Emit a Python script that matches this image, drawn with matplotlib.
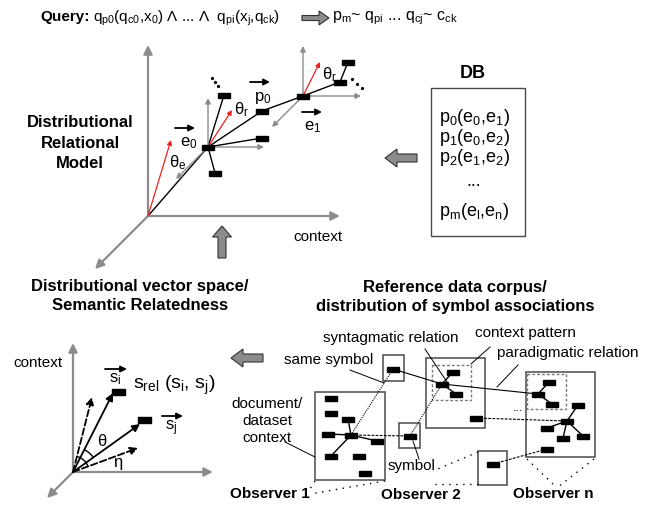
import numpy as np
import matplotlib.pyplot as plt
from matplotlib.patches import Rectangle, FancyArrow, Arc

plt.rcParams['font.family'] = ['Liberation Sans', 'DejaVu Sans']
plt.rcParams['mathtext.fontset'] = 'custom'
plt.rcParams['mathtext.rm'] = 'Liberation Sans'
plt.rcParams['mathtext.it'] = 'Liberation Sans'
plt.rcParams['mathtext.bf'] = 'Liberation Sans:bold'
plt.rcParams['mathtext.default'] = 'regular'

GRAY = '#8c8c8c'
RED = '#e8231f'
BOXC = '#4a4a4a'

# --- texts ---
QUERY_HEAD = 'Query:'
QUERY = r'$q_{p0}$($q_{c0}$,$x_0$) Λ ... Λ  $q_{pi}$($x_j$,$q_{ck}$)'
QUERY_RESULT = r'$p_m$~ $q_{pi}$ ... $q_{cj}$~ $c_{ck}$'
DB_ROWS = [r'$p_0$($e_0$,$e_1$)', r'$p_1$($e_0$,$e_2$)', r'$p_2$($e_1$,$e_2$)', '...',
           r'$p_m$($e_l$,$e_n$)']
DB_ROW_Y = [118, 138, 158, 181, 211]
TITLE_DRM = 'Distributional\nRelational\nModel'
TITLE_DVS = 'Distributional vector space/\nSemantic Relatedness'
TITLE_REF = 'Reference data corpus/\ndistribution of symbol associations'
OBSERVERS = ['Observer 1', 'Observer 2', 'Observer n']
OBSERVER_POS = [(270, 494), (421, 495), (553, 494)]

# --- distributional relational model (pixel layout) ---
origin3d = (148, 216)
axes3d_ends = [(148, 45), (340, 216), (95, 269)]
chain = [(148, 216), (208, 147), (262, 111), (303, 96), (340, 82), (348, 62)]
e0 = (208, 147)
e1 = (303, 96)
e0_branches = [(224, 95), (262, 138), (215, 173)]
e0_axes = [(208, 98), (264, 147), (176, 179)]
e1_axes = [(303, 46), (361, 96), (272, 127)]
red_vectors = [((148, 216), (171, 140)), ((208, 147), (232, 110)), ((303, 96), (320, 62))]
model_nodes = [(208, 147), (262, 111), (303, 96), (340, 82), (348, 62),
               (224, 95), (262, 138), (215, 173)]
vec_labels = [(r'$e_0$', (185, 128), (189, 143)),
              (r'$p_0$', (260, 82), (263, 98)),
              (r'$e_1$', (312, 112), (313, 127))]
angle_labels = [(r'$θ_e$', (178, 163)), (r'$θ_r$', (242, 110)), (r'$θ_r$', (330, 75))]

# --- vector space ---
origin2d = (73, 472)
axes2d_ends = [(73, 343), (213, 472), (47, 498)]
solid_vecs = [(113, 393), (140, 424)]
dashed_vecs = [(92, 397), (138, 448)]
vs_nodes = [(118, 392), (144, 420)]

# --- reference corpus ---
boxes = [(315, 392, 385, 480), (383, 355, 404, 381), (399, 423, 420, 448),
         (426, 358, 485, 428), (526, 372, 595, 457), (478, 451, 507, 485)]
dashed_boxes = [(432, 365, 471, 400), (527, 374, 566, 409)]
corpus_nodes = [(331, 398), (331, 413), (348, 419), (328, 434), (351, 435), (377, 441),
                (331, 456), (359, 456), (365, 473), (393, 369), (410, 436),
                (453, 372), (442, 384), (456, 394), (476, 418),
                (549, 382), (538, 394), (552, 404), (578, 405), (567, 421),
                (547, 428), (563, 438), (583, 436), (547, 449), (493, 464)]
solid_edges = [((351, 435), (328, 434)), ((351, 435), (348, 419)), ((351, 435), (377, 441)),
               ((351, 435), (331, 456)), ((442, 384), (453, 372)), ((442, 384), (456, 394)),
               ((538, 394), (549, 382)), ((538, 394), (552, 404)), ((567, 421), (578, 405)),
               ((567, 421), (547, 428)), ((567, 421), (563, 438)), ((567, 421), (583, 436))]
thin_links = [((393, 369), (442, 384)), ((442, 384), (538, 394))]
dotted_links = [((351, 435), (393, 369)), ((410, 436), (442, 384))]
dashed_links = [((351, 435), (410, 436)), ((476, 418), (567, 421)), ((493, 464), (547, 449))]
leaders = [((425, 349), (447, 382)), ((490, 347), (471, 364)), ((518, 365), (497, 387)),
           ((350, 370), (384, 383)), ((285, 442), (315, 457)), ((413, 441), (419, 459))]
observer_dots = [((315, 481), (308, 492)), ((385, 481), (310, 494)),
                 ((478, 452), (433, 471)), ((478, 484), (433, 484)),
                 ((527, 459), (556, 487)), ((594, 459), (558, 487))]
corpus_labels = [('syntagmatic relation', (391, 338), 'center'),
                 ('context pattern', (525, 333), 'center'),
                 ('paradigmatic relation', (568, 353), 'center'),
                 ('same symbol', (373, 360), 'right'),
                 ('symbol', (411, 466), 'center')]


def arrow(ax, start, end, color='black', lw=1.0, ms=8, ls='-'):
    ax.annotate('', xy=end, xytext=start,
                arrowprops=dict(arrowstyle='-|>', color=color, lw=lw, ls=ls,
                                mutation_scale=ms, shrinkA=0, shrinkB=0))


def node(ax, xy, w=12, h=5):
    ax.add_patch(Rectangle((xy[0] - w / 2, xy[1] - h / 2), w, h, color='black', zorder=5))


def fat_arrow(ax, start, end, width=7, head=17, head_len=11):
    ax.add_patch(FancyArrow(start[0], start[1], end[0] - start[0], end[1] - start[1],
                            width=width, head_width=head, head_length=head_len,
                            length_includes_head=True, fc='#8c8c8c', ec='#333333', lw=0.8))


def line(ax, a, b, **kw):
    ax.plot([a[0], b[0]], [a[1], b[1]], **kw)


fig = plt.figure(figsize=(6.62, 5.08), dpi=100)
ax = fig.add_axes([0, 0, 1, 1])
ax.set_xlim(0, 662)
ax.set_ylim(508, 0)
ax.axis('off')

# query line
ax.text(40, 17, QUERY_HEAD, fontsize=11, fontweight='bold', va='center', ha='left')
ax.text(93, 18, QUERY, fontsize=11, va='center', ha='left')
fat_arrow(ax, (302, 18), (329, 18), width=5, head=14, head_len=10)
ax.text(332, 18, QUERY_RESULT, fontsize=11.5, va='center', ha='left')

# distributional relational model
ax.text(80, 143, TITLE_DRM, fontsize=12, fontweight='bold', ha='center', va='center',
        linespacing=1.45)
for end in axes3d_ends:
    arrow(ax, origin3d, end, color=GRAY, lw=1.6, ms=13)
ax.text(318, 237, 'context', fontsize=11, ha='center', va='center')
for end in e0_axes:
    arrow(ax, e0, end, color=GRAY, lw=1.0, ms=8)
for end in e1_axes:
    arrow(ax, e1, end, color=GRAY, lw=1.0, ms=8)
ax.plot([p[0] for p in chain], [p[1] for p in chain], color='black', lw=1.0)
for b in e0_branches:
    line(ax, e0, b, color='black', lw=1.0)
for s, e in red_vectors:
    arrow(ax, s, e, color=RED, lw=0.9, ms=7)
for n in model_nodes:
    node(ax, n)
for a, b in [((212, 78), (218, 86)), ((352, 79), (362, 88))]:
    ax.plot(np.linspace(a[0], b[0], 3), np.linspace(a[1], b[1], 3), 'o', color='black', ms=1.3)
for txt, arr_c, txt_c in vec_labels:
    arrow(ax, (arr_c[0] - 10, arr_c[1]), (arr_c[0] + 10, arr_c[1]), lw=1.3, ms=9)
    ax.text(txt_c[0], txt_c[1], txt, fontsize=12, ha='center', va='center')
for txt, c in angle_labels:
    ax.text(c[0], c[1], txt, fontsize=12, ha='center', va='center')
fat_arrow(ax, (222, 258), (222, 226), width=8, head=19, head_len=11)

# DB
ax.text(473, 73, 'DB', fontsize=13, fontweight='bold', ha='center', va='center')
ax.add_patch(Rectangle((431, 88), 94, 148, fill=False, ec=BOXC, lw=1.0))
for row, y in zip(DB_ROWS, DB_ROW_Y):
    ax.text(474, y, row, fontsize=13, ha='center', va='center')
fat_arrow(ax, (417, 158), (385, 158), width=8, head=18, head_len=12)

# vector space
ax.text(140, 296, TITLE_DVS, fontsize=12, fontweight='bold', ha='center', va='center',
        linespacing=1.3)
for end in axes2d_ends:
    arrow(ax, origin2d, end, color=GRAY, lw=1.6, ms=13)
ax.text(38, 363, 'context', fontsize=11, ha='center', va='center')
for end in solid_vecs:
    arrow(ax, origin2d, end, lw=1.3, ms=11)
for end in dashed_vecs:
    arrow(ax, origin2d, end, lw=1.3, ms=11, ls='--')
for n in vs_nodes:
    node(ax, n, w=13, h=6)
ang = [np.degrees(np.arctan2(origin2d[1] - p[1], p[0] - origin2d[0])) for p in solid_vecs + dashed_vecs]
ax.add_patch(Arc(origin2d, 50, 50, theta1=-ang[0], theta2=-ang[1], lw=1.0, color='black'))
ax.add_patch(Arc(origin2d, 32, 32, theta1=-ang[2], theta2=-ang[3], lw=1.0, color='black'))
ax.text(102, 442, 'θ', fontsize=12, ha='center', va='center')
ax.text(118, 462, 'η', fontsize=12, ha='center', va='center')
arrow(ax, (105, 369), (127, 369), lw=1.3, ms=9)
ax.text(115, 379, r'$s_i$', fontsize=12, ha='center', va='center')
ax.text(133, 385, r'$s_{rel}$ ($s_i$, $s_j$)', fontsize=14, ha='left', va='center')
arrow(ax, (162, 416), (183, 416), lw=1.3, ms=9)
ax.text(171, 428, r'$s_j$', fontsize=12, ha='center', va='center')
fat_arrow(ax, (263, 358), (231, 358), width=8, head=18, head_len=12)

# reference corpus
ax.text(455, 297, TITLE_REF, fontsize=12, fontweight='bold', ha='center', va='center',
        linespacing=1.3)
for x0, y0, x1, y1 in boxes:
    ax.add_patch(Rectangle((x0, y0), x1 - x0, y1 - y0, fill=False, ec=BOXC, lw=1.1))
for x0, y0, x1, y1 in dashed_boxes:
    ax.add_patch(Rectangle((x0, y0), x1 - x0, y1 - y0, fill=False, ec='#777777', lw=1.0,
                           ls=(0, (2, 1.5))))
for a, b in solid_edges:
    line(ax, a, b, color='black', lw=1.0)
for a, b in thin_links:
    line(ax, a, b, color='black', lw=0.8)
for a, b in dotted_links:
    line(ax, a, b, color='black', lw=0.8, ls=(0, (1, 1)))
for a, b in dashed_links:
    line(ax, a, b, color='black', lw=0.8, ls=(0, (2.5, 1.2)))
for a, b in leaders:
    line(ax, a, b, color='black', lw=0.7)
for a, b in observer_dots:
    line(ax, a, b, color='black', lw=1.0, ls=(0, (1, 4)))
for n in corpus_nodes:
    node(ax, n)
for txt, c, ha in corpus_labels:
    ax.text(c[0], c[1], txt, fontsize=11, ha=ha, va='center')
ax.text(267, 421, 'document/\ndataset\ncontext', fontsize=11, ha='center', va='center',
        linespacing=1.25)
ax.text(518, 408, '...', fontsize=9, ha='center', va='center')
for txt, c in zip(OBSERVERS, OBSERVER_POS):
    ax.text(c[0], c[1], txt, fontsize=11, fontweight='bold', ha='center', va='center')

fig.savefig('out.png', dpi=100, facecolor='white')
